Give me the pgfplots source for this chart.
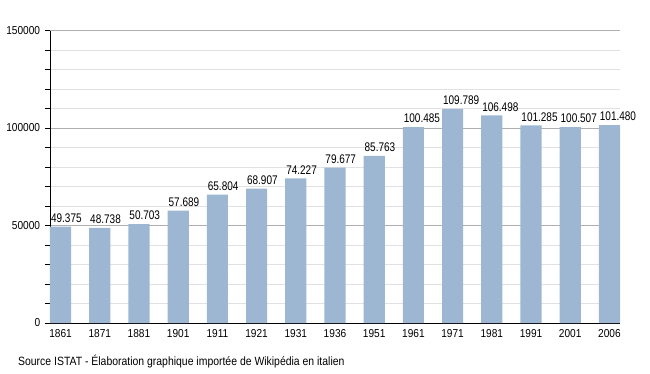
\documentclass[border=0pt]{standalone}
\usepackage{pgfplots}
\pgfplotsset{compat=1.18}
\usepackage{fontspec}
\setmainfont{Liberation Sans}
\definecolor{barblue}{RGB}{157,183,211}
\definecolor{majgrid}{RGB}{175,175,175}
\definecolor{mingrid}{RGB}{225,225,225}
\begin{document}
\begin{tikzpicture}
\path[use as bounding box] (0,0) rectangle (650pt,373pt);
\begin{axis}[
  at={(50pt,50pt)}, anchor=south west,
  scale only axis, width=570pt, height=292.5pt,
  xmin=-0.27, xmax=14.27, ymin=0, ymax=150000,
  axis x line*=bottom, axis y line*=left,
  axis line style={black, line width=0.8pt, -},
  xtick=data,
  xticklabels={1861,1871,1881,1901,1911,1921,1931,1936,1951,1961,1971,1981,1991,2001,2006},
  x tick style={draw=none},
  ytick={0,50000,100000,150000},
  yticklabels={0,50000,100000,150000},
  minor ytick={10000,20000,30000,40000,60000,70000,80000,90000,110000,120000,130000,140000},
  scaled y ticks=false,
  ymajorgrids, yminorgrids,
  major grid style={majgrid, line width=0.6pt},
  minor grid style={mingrid, line width=0.6pt},
  y tick style={black, line width=0.6pt},
  tick align=outside,
  major tick length=5pt, minor tick length=5pt,
  tick label style={font=\fontsize{11.5}{13}\selectfont, xscale=0.88},
  xticklabel style={yshift=2pt},
  yticklabel style={xshift=-2pt},
  ybar, bar width=0.54,
  point meta=explicit symbolic,
  nodes near coords,
  every node near coord/.append style={font=\fontsize{12.5}{14}\selectfont, anchor=south west, xshift=-10.5pt, yshift=3pt, xscale=0.8, inner sep=1pt},
]
\addplot[fill=barblue, draw=none] coordinates {
(0,49375) [49.375]
(1,48738) [48.738]
(2,50703) [50.703]
(3,57689) [57.689]
(4,65804) [65.804]
(5,68907) [68.907]
(6,74227) [74.227]
(7,79677) [79.677]
(8,85763) [85.763]
(9,100485) [100.485]
(10,109789) [109.789]
(11,106498) [106.498]
(12,101285) [101.285]
(13,100507) [100.507]
(14,101480) [101.480]
};
\end{axis}
\node[anchor=west, inner sep=0pt, xscale=0.87, font=\fontsize{12}{14}\selectfont] at (18pt,11pt) {Source ISTAT - Élaboration graphique importée de Wikipédia en italien};
\end{tikzpicture}
\end{document}
